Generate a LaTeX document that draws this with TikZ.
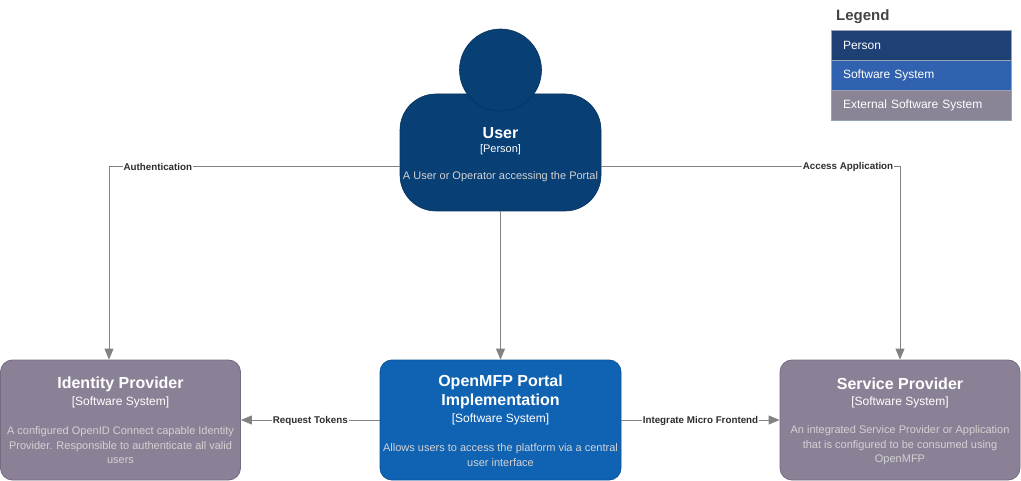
\documentclass[tikz,border=0pt]{standalone}
\usepackage{fontspec}
\setmainfont{Liberation Sans}
\usetikzlibrary{arrows.meta}
\definecolor{personc}{HTML}{083F75}
\definecolor{personb}{HTML}{06335F}
\definecolor{sysc}{HTML}{1063B3}
\definecolor{sysb}{HTML}{0D5496}
\definecolor{extc}{HTML}{8B8196}
\definecolor{extb}{HTML}{756A80}
\definecolor{linec}{HTML}{828282}
\definecolor{labc}{HTML}{2E2E2E}
\definecolor{descc}{HTML}{D2D2D2}
\definecolor{legperson}{HTML}{1E4074}
\definecolor{legsys}{HTML}{3162AF}
\definecolor{legext}{HTML}{8B8496}
\definecolor{legb}{HTML}{9AA3B5}
\definecolor{legtitle}{HTML}{444444}
\tikzset{
  sysbox/.style={draw=#1, line width=0.8pt, rounded corners=12pt, inner sep=0pt, minimum width=240pt, minimum height=120pt},
  titletxt/.style={text=white, font=\bfseries\fontsize{16}{19}\selectfont, align=center, inner sep=0pt},
  typetxt/.style={text=white, font=\fontsize{12}{14}\selectfont, inner sep=0pt},
  desctxt/.style={text=descc, font=\fontsize{11}{14.5}\selectfont, align=center, inner sep=0pt},
  conn/.style={draw=linec, line width=0.9pt, -{Triangle[length=11pt,width=9pt]}},
  lab/.style={fill=white, text=labc, font=\bfseries\fontsize{9.8}{11}\selectfont, inner sep=1pt},
  legrow/.style={draw=legb, line width=0.6pt, minimum width=180pt, minimum height=30pt, inner sep=0pt, text=white, font=\fontsize{12}{14}\selectfont, text width=156pt, align=left},
}
\begin{document}
\begin{tikzpicture}[x=1pt,y=-1pt]
\useasboundingbox[fill=white] (0,0) rectangle (1021,481);

% Boxes
\node[sysbox=extb, fill=extc] (idp) at (120.5,420) {};
\node[sysbox=sysb, fill=sysc, minimum width=241pt] (portal) at (500.5,420) {};
\node[sysbox=extb, fill=extc] (sp) at (900,420) {};

% User
\node[fill=personc, draw=personb, line width=0.6pt, rounded corners=36pt, minimum width=201pt, minimum height=117pt, inner sep=0pt] (user) at (500.5,152.5) {};
\node[circle, fill=personc, draw=personb, line width=0.6pt, minimum size=82pt, inner sep=0pt] (head) at (500.5,70) {};
\node[titletxt] (utitle) at (500.5,133) {User};
\node[text=white, font=\fontsize{11}{13}\selectfont, inner sep=0pt] (utype) at (500.5,150) {[Person]};
\node[desctxt] (udesc) at (500.5,177) {A User or Operator accessing the Portal};

% Identity Provider texts
\node[titletxt] (ititle) at (120.5,384) {Identity Provider};
\node[typetxt] (itype) at (120.5,402) {[Software System]};
\node[desctxt] (idesc) at (120.5,445.5) {A configured OpenID Connect capable Identity\\Provider. Responsible to authenticate all valid\\users};

% Portal texts
\node[titletxt] (ptitle) at (500.5,391.5) {OpenMFP Portal\\Implementation};
\node[typetxt] (ptype) at (500.5,419) {[Software System]};
\node[desctxt] (pdesc) at (500.5,455) {Allows users to access the platform via a central\\user interface};

% Service Provider texts
\node[titletxt] (stitle) at (900,384) {Service Provider};
\node[typetxt] (stype) at (900,402) {[Software System]};
\node[desctxt] (sdesc) at (900,445.5) {An integrated Service Provider or Application\\that is configured to be consumed using\\OpenMFP};

% Connectors
\draw[conn] ([yshift=-13.5pt]user.west) -| node[lab, pos=0.416, yshift=-0.8pt] {Authentication} ([xshift=-11.5pt]idp.north);
\draw[conn] ([yshift=-13.5pt]user.east) -| node[lab, pos=0.413, yshift=-0.8pt] {Access Application} (sp.north);
\draw[conn] (user.south) -- (portal.north);
\draw[conn] (portal.west) -- node[lab, yshift=-0.8pt] {Request Tokens} (idp.east);
\draw[conn] (portal.east) -- node[lab, yshift=-0.8pt] {Integrate Micro Frontend} (sp.west);

% Legend
\node[text=legtitle, font=\bfseries\fontsize{15}{17}\selectfont, anchor=west, inner sep=0pt] (legt) at (836,16.5) {Legend};
\node[legrow, fill=legperson] (l1) at (921,45) {Person};
\node[legrow, fill=legsys] (l2) at (921,75) {Software System};
\node[legrow, fill=legext] (l3) at (921,105) {External Software System};
\end{tikzpicture}
\end{document}
